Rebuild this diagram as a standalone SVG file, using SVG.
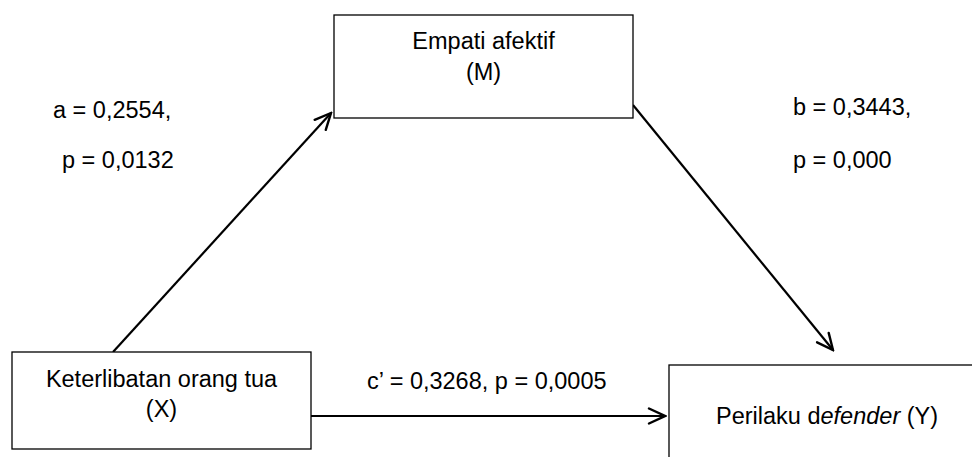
<svg xmlns="http://www.w3.org/2000/svg" width="972" height="457" viewBox="0 0 972 457">
<defs>
<style>
.box{fill:#fff;stroke:#000;stroke-width:1.3}
.t{font-family:"Liberation Sans",Arial,sans-serif;font-size:23.5px;fill:#000}
.c{text-anchor:middle}
.ln{stroke:#000;stroke-width:2.2;fill:none;marker-end:url(#ah)}
</style>
<marker id="ah" markerUnits="userSpaceOnUse" viewBox="0 0 20 20" refX="18" refY="10" markerWidth="20" markerHeight="20" orient="auto">
<path d="M2,2.5 L18,10 L2,17.5" fill="none" stroke="#000" stroke-width="2.4" stroke-linecap="round" stroke-linejoin="miter"/>
</marker>
</defs>
<rect width="972" height="457" fill="#fff"/>
<g id="connectors">
<line class="ln" x1="113" y1="352" x2="331" y2="113"/>
<line class="ln" x1="633" y1="105" x2="833" y2="350"/>
<line class="ln" x1="308" y1="416" x2="665" y2="416"/>
</g>
<g id="node-M">
<rect class="box" x="334" y="15" width="299" height="103"/>
<text class="t c" x="483.5" y="49">Empati afektif</text>
<text class="t c" x="483.5" y="80">(M)</text>
</g>
<g id="node-X">
<rect class="box" x="12" y="352" width="299" height="97"/>
<text class="t c" x="161.5" y="387">Keterlibatan orang tua</text>
<text class="t c" x="161.5" y="417">(X)</text>
</g>
<g id="node-Y">
<rect class="box" x="669" y="365" width="320" height="110"/>
<text class="t" x="716" y="424">Perilaku d<tspan font-style="italic">efender</tspan> (Y)</text>
</g>
<g id="labels">
<text class="t" x="53" y="118">a = 0,2554,</text>
<text class="t" x="62" y="168">p = 0,0132</text>
<text class="t" x="793" y="115">b = 0,3443,</text>
<text class="t" x="793" y="168">p = 0,000</text>
<text class="t" x="367" y="389">c’ = 0,3268, p = 0,0005</text>
</g>
</svg>
